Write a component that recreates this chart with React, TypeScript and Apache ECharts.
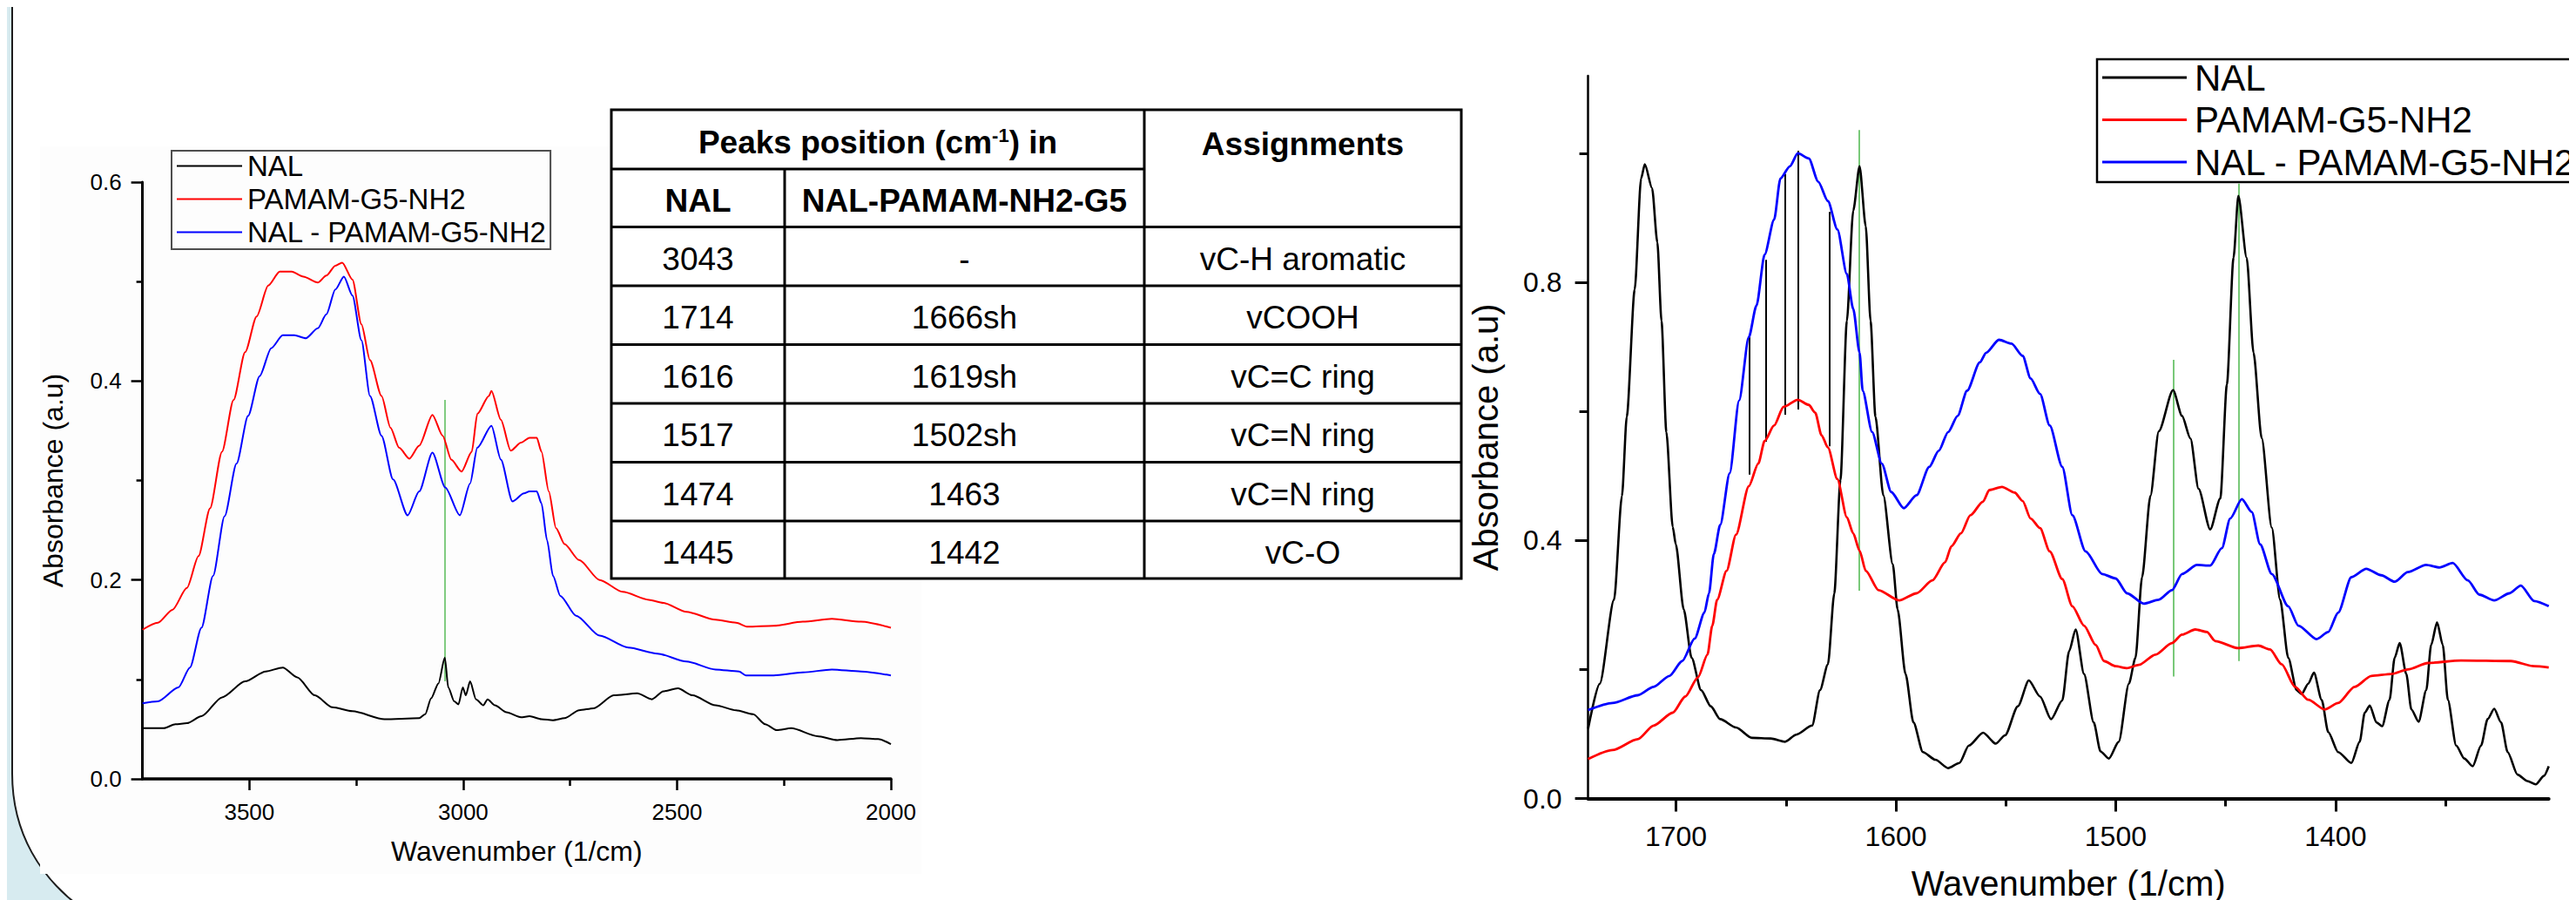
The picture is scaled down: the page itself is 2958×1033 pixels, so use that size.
import React, { useEffect, useRef } from "react";
import * as echarts from "echarts";

const FONT = "'Liberation Sans', Arial, Helvetica, sans-serif";
const NAMES = ["NAL", "PAMAM-G5-NH2", "NAL - PAMAM-G5-NH2"];
const COLORS = ["#000000", "#ff0000", "#0000ff"];

// ---------- left panel (3750-2000 cm-1) : [wavenumber, absorbance] ----------
const leftNAL = [
  [3750, 0.051], [3700, 0.051], [3673, 0.055], [3646, 0.056], [3612, 0.063], [3564, 0.082], [3510, 0.098],
  [3462, 0.108], [3422, 0.112], [3388, 0.102], [3347, 0.084], [3306, 0.072], [3259, 0.068], [3184, 0.06],
  [3103, 0.061], [3089, 0.065], [3075, 0.081], [3058, 0.096], [3043, 0.122], [3035, 0.092], [3021, 0.078],
  [3011, 0.075], [3001, 0.092], [2994, 0.084], [2984, 0.098], [2970, 0.08], [2953, 0.074], [2943, 0.08],
  [2926, 0.074], [2899, 0.067], [2865, 0.062], [2845, 0.063], [2817, 0.06], [2790, 0.059], [2763, 0.061],
  [2729, 0.069], [2695, 0.071], [2648, 0.084], [2593, 0.086], [2559, 0.08], [2532, 0.088], [2498, 0.091],
  [2464, 0.084], [2410, 0.074], [2362, 0.069], [2322, 0.065], [2294, 0.055], [2267, 0.049], [2233, 0.051],
  [2172, 0.043], [2125, 0.039], [2070, 0.041], [2030, 0.04], [2000, 0.035],
];
const leftPAMAM = [
  [3750, 0.15], [3714, 0.157], [3680, 0.17], [3646, 0.192], [3619, 0.224], [3592, 0.272], [3564, 0.329],
  [3537, 0.381], [3510, 0.429], [3483, 0.465], [3456, 0.496], [3429, 0.51], [3401, 0.51], [3374, 0.505],
  [3340, 0.499], [3320, 0.506], [3299, 0.516], [3283, 0.519], [3259, 0.502], [3238, 0.457], [3218, 0.421],
  [3191, 0.385], [3170, 0.353], [3150, 0.333], [3126, 0.322], [3103, 0.335], [3072, 0.366], [3048, 0.345],
  [3028, 0.321], [3004, 0.309], [2980, 0.329], [2967, 0.367], [2940, 0.385], [2934, 0.39], [2912, 0.361],
  [2889, 0.33], [2865, 0.338], [2845, 0.343], [2828, 0.343], [2817, 0.329], [2800, 0.289], [2783, 0.252],
  [2763, 0.236], [2729, 0.22], [2681, 0.2], [2627, 0.188], [2566, 0.18], [2532, 0.177], [2478, 0.168],
  [2410, 0.16], [2362, 0.157], [2335, 0.153], [2274, 0.154], [2206, 0.158], [2138, 0.161], [2070, 0.158],
  [2000, 0.152],
];
const leftComplex = [
  [3750, 0.076], [3714, 0.078], [3666, 0.092], [3639, 0.112], [3612, 0.152], [3585, 0.204], [3558, 0.264],
  [3530, 0.317], [3503, 0.365], [3476, 0.405], [3449, 0.433], [3422, 0.446], [3395, 0.446], [3368, 0.443],
  [3340, 0.453], [3320, 0.467], [3299, 0.492], [3279, 0.505], [3259, 0.486], [3238, 0.441], [3218, 0.385],
  [3191, 0.345], [3164, 0.301], [3130, 0.265], [3103, 0.289], [3072, 0.328], [3042, 0.293], [3008, 0.265],
  [2984, 0.297], [2967, 0.333], [2934, 0.355], [2912, 0.321], [2885, 0.279], [2858, 0.287], [2845, 0.289],
  [2828, 0.289], [2817, 0.277], [2804, 0.24], [2790, 0.204], [2773, 0.184], [2736, 0.164], [2681, 0.144],
  [2614, 0.132], [2546, 0.126], [2478, 0.118], [2410, 0.11], [2355, 0.108], [2339, 0.104], [2274, 0.104],
  [2206, 0.107], [2138, 0.11], [2070, 0.108], [2000, 0.104],
];
const leftGreen = [[3043, 0.098, 0.381]]; // [wavenumber, from, to]
const leftXTicks = [2000, 2500, 3000, 3500];
const leftXMinor = [2250, 2750, 3250];
const leftYTicks = [0, 0.2, 0.4, 0.6];
const leftYMinor = [0.1, 0.3, 0.5];

// ---------- right panel (1740-1303 cm-1) ----------
const rightNAL = [
  [1740, 0.108], [1734.7, 0.178], [1728.2, 0.308], [1724.6, 0.469], [1722.4, 0.592], [1718.8, 0.789],
  [1715.9, 0.961], [1714.2, 0.983], [1710.9, 0.946], [1708.5, 0.862], [1706.6, 0.74], [1704.4, 0.568],
  [1701.5, 0.421], [1700.1, 0.394], [1696.5, 0.293], [1692.9, 0.218], [1688.6, 0.168], [1684.2, 0.143],
  [1679.9, 0.123], [1672.7, 0.11], [1665.5, 0.094], [1656.9, 0.093], [1650.4, 0.088], [1645.3, 0.099],
  [1638.1, 0.113], [1634.5, 0.168], [1630.9, 0.208], [1628, 0.318], [1625.2, 0.494], [1622.3, 0.74],
  [1619.4, 0.911], [1616.5, 0.98], [1613.7, 0.887], [1611.5, 0.74], [1609.3, 0.592], [1605.7, 0.47],
  [1601.4, 0.363], [1599.2, 0.293], [1595.6, 0.193], [1592, 0.118], [1587.7, 0.072], [1582, 0.06],
  [1576.2, 0.047], [1571.1, 0.055], [1566.8, 0.082], [1560.3, 0.102], [1554.6, 0.085], [1550.3, 0.098],
  [1544.5, 0.143], [1539.5, 0.183], [1534.4, 0.158], [1529.4, 0.123], [1524.3, 0.152], [1521.2, 0.228],
  [1518.2, 0.262], [1514.4, 0.193], [1510, 0.118], [1506.9, 0.073], [1503.1, 0.062], [1498.6, 0.088],
  [1494, 0.178], [1491, 0.218], [1488, 0.343], [1484.2, 0.469], [1480.4, 0.569], [1473.9, 0.633],
  [1469.8, 0.593], [1466, 0.558], [1462.3, 0.48], [1457, 0.417], [1452.4, 0.465], [1449.4, 0.642],
  [1446.4, 0.838], [1444.2, 0.934], [1440.4, 0.838], [1437.3, 0.691], [1433.6, 0.559], [1429, 0.42],
  [1425.2, 0.308], [1421.5, 0.218], [1417.7, 0.168], [1415.4, 0.162], [1412.4, 0.178], [1409.8, 0.195],
  [1406.3, 0.153], [1403.3, 0.103], [1398.8, 0.072], [1392.8, 0.055], [1389, 0.088], [1386.7, 0.133],
  [1384.4, 0.144], [1381.4, 0.118], [1378.8, 0.112], [1375.4, 0.153], [1373.1, 0.218], [1370.8, 0.241],
  [1367.8, 0.193], [1365.5, 0.138], [1362.2, 0.119], [1358.7, 0.168], [1356.5, 0.238], [1353.8, 0.273],
  [1351.2, 0.238], [1348.9, 0.153], [1345.1, 0.082], [1341.4, 0.062], [1337.6, 0.05], [1333.8, 0.082],
  [1330.8, 0.123], [1327.8, 0.139], [1324.7, 0.118], [1321.7, 0.072], [1317.2, 0.037], [1312.7, 0.027],
  [1308.9, 0.022], [1305.2, 0.035], [1303, 0.05],
];
const rightPAMAM = [
  [1740, 0.061], [1728.9, 0.075], [1717.4, 0.092], [1710.2, 0.113], [1701.5, 0.133], [1695.8, 0.158],
  [1690, 0.188], [1685.7, 0.223], [1683.5, 0.268], [1681.3, 0.308], [1677, 0.353], [1672.7, 0.409],
  [1666.9, 0.484], [1662.6, 0.519], [1659.7, 0.554], [1655.4, 0.578], [1651.1, 0.607], [1644.6, 0.618],
  [1639.6, 0.61], [1636.7, 0.598], [1633.8, 0.563], [1630.9, 0.544], [1626.6, 0.495], [1622.3, 0.436],
  [1619.4, 0.411], [1616.5, 0.384], [1613.7, 0.353], [1607.9, 0.323], [1598.5, 0.307], [1590.6, 0.318],
  [1583.4, 0.338], [1577.6, 0.366], [1574.7, 0.391], [1570.4, 0.411], [1566.1, 0.439], [1560.4, 0.46],
  [1557.5, 0.478], [1551.7, 0.483], [1545.9, 0.474], [1542.3, 0.461], [1538.7, 0.434], [1534.4, 0.419],
  [1530, 0.383], [1524.3, 0.34], [1519.7, 0.298], [1514.4, 0.268], [1509.1, 0.238], [1505.3, 0.213],
  [1500, 0.205], [1494.8, 0.202], [1489.5, 0.207], [1481.9, 0.223], [1474.4, 0.241], [1469.8, 0.254],
  [1463.8, 0.262], [1458.5, 0.258], [1454.7, 0.244], [1444.2, 0.233], [1435.1, 0.237], [1429.8, 0.231],
  [1424.5, 0.208], [1418.4, 0.173], [1412.4, 0.153], [1404.9, 0.138], [1398.8, 0.148], [1391.3, 0.173],
  [1383.7, 0.19], [1374.6, 0.193], [1367.1, 0.2], [1358, 0.21], [1342.9, 0.214], [1320.2, 0.213],
  [1309.6, 0.205], [1303, 0.203],
];
const rightComplex = [
  [1740, 0.137], [1728.9, 0.148], [1717.4, 0.16], [1710.2, 0.173], [1703, 0.19], [1697.2, 0.213],
  [1691.5, 0.248], [1687.1, 0.288], [1685, 0.318], [1682.8, 0.379], [1679.9, 0.424], [1675.6, 0.504],
  [1671.3, 0.617], [1666.9, 0.715], [1663.4, 0.764], [1659.7, 0.843], [1655.4, 0.897], [1652.5, 0.961],
  [1648.2, 0.98], [1644.6, 1.0], [1639.6, 0.992], [1635.3, 0.956], [1630.9, 0.926], [1626.6, 0.882],
  [1622.3, 0.813], [1619.4, 0.759], [1616.5, 0.691], [1615.1, 0.632], [1610.8, 0.568], [1606.4, 0.519],
  [1602.1, 0.475], [1596.4, 0.45], [1590.6, 0.47], [1584.8, 0.514], [1580.5, 0.539], [1576.2, 0.568],
  [1571.9, 0.593], [1567.6, 0.632], [1561.8, 0.676], [1558.9, 0.691], [1553.1, 0.711], [1547.4, 0.705],
  [1542.3, 0.686], [1538.7, 0.651], [1534.4, 0.627], [1530, 0.578], [1524.3, 0.514], [1519.7, 0.439],
  [1513.7, 0.383], [1506.1, 0.348], [1500, 0.341], [1494.8, 0.318], [1487.2, 0.302], [1480.4, 0.308],
  [1474.4, 0.323], [1469.8, 0.348], [1463, 0.362], [1457, 0.361], [1451.7, 0.388], [1447.9, 0.434],
  [1442.6, 0.464], [1438.1, 0.444], [1434.3, 0.394], [1429, 0.348], [1421.5, 0.298], [1416.9, 0.268],
  [1408.6, 0.247], [1403.3, 0.258], [1398.8, 0.288], [1392.8, 0.343], [1386, 0.356], [1379.2, 0.346],
  [1373.1, 0.336], [1367.1, 0.351], [1358.8, 0.362], [1352.7, 0.358], [1346.7, 0.365], [1339.8, 0.338],
  [1334.6, 0.316], [1327.8, 0.307], [1320.9, 0.318], [1315.7, 0.33], [1309.6, 0.306], [1303, 0.298],
];
const rightGreen = [[1616.8, 0.322, 1.036], [1473.9, 0.189, 0.68], [1444.2, 0.213, 0.953]];
const rightDrop = [[1666.6, 0.502, 0.716], [1659.3, 0.553, 0.835], [1650.5, 0.595, 0.968], [1644.3, 0.603, 1.004], [1630.3, 0.546, 0.909]];
const rightXTicks = [1400, 1500, 1600, 1700];
const rightXMinor = [1350, 1450, 1550, 1650];
const rightYTicks = [0, 0.4, 0.8];
const rightYMinor = [0.2, 0.6, 1.0];

// ---------- table ----------
const tableColHeads = ["NAL", "NAL-PAMAM-NH2-G5", "Assignments"];
const tableNAL = ["3043", "1714", "1616", "1517", "1474", "1445"];
const tableComplex = ["-", "1666sh", "1619sh", "1502sh", "1463", "1442"];
const tableAssign = ["vC-H aromatic", "vCOOH", "vC=C ring", "vC=N ring", "vC=N ring", "vC-O"];

// layout constants
const TX = [694, 893, 1306, 1670];
const TY = [118, 186, 252.5, 320, 387.5, 455, 522.5, 590, 656];

echarts.graphic.registerShape(
  "slideFill",
  echarts.graphic.extendPath("M 6 0 L 2958 0 L 2958 1033 L 84 1033 C 40 1000 6 950 6 880 Z", {})
);
echarts.graphic.registerShape(
  "slideEdge",
  echarts.graphic.extendPath("M 6 0 L 6 880 C 6 950 40 1000 84 1033", {})
);

function vlines(arr: number[][]) {
  return arr.map(([x, a, b]) => ({ coords: [[x, a], [x, b]] }));
}

function buildOption(): any {
  const tickStyle = (w: number) => ({ lineStyle: { color: "#000", width: w } });
  const baseAxis = { splitLine: { show: false }, axisPointer: { show: false }, nameMoveOverlap: false };
  const plain = (v: number) => String(v);

  const xAxis = [
    {
      ...baseAxis, type: "value", gridIndex: 0, min: 2000, max: 3750, inverse: true, position: "bottom",
      axisLine: { show: true, onZero: false, lineStyle: { color: "#000", width: 3.5 } },
      axisTick: { show: true, inside: false, length: 13, customValues: leftXTicks, ...tickStyle(2.5) },
      axisLabel: { show: true, customValues: leftXTicks, margin: 25, fontSize: 26, fontFamily: FONT, color: "#000", formatter: plain },
      name: "Wavenumber (1/cm)", nameLocation: "middle", nameGap: 67,
      nameTextStyle: { fontSize: 32, fontFamily: FONT, color: "#000" },
    },
    {
      ...baseAxis, type: "value", gridIndex: 0, min: 2000, max: 3750, inverse: true, position: "bottom", offset: 0,
      axisLine: { show: false }, axisLabel: { show: false },
      axisTick: { show: true, length: 8, customValues: leftXMinor, ...tickStyle(2.5) },
    },
    {
      ...baseAxis, type: "value", gridIndex: 1, min: 1303, max: 1740, inverse: true, position: "bottom",
      axisLine: { show: true, onZero: false, lineStyle: { color: "#000", width: 4 } },
      axisTick: { show: true, inside: false, length: 15, customValues: rightXTicks, ...tickStyle(3) },
      axisLabel: { show: true, customValues: rightXTicks, margin: 27, fontSize: 32, fontFamily: FONT, color: "#000", formatter: plain },
      name: "Wavenumber (1/cm)", nameLocation: "middle", nameGap: 77,
      nameTextStyle: { fontSize: 40, fontFamily: FONT, color: "#000" },
    },
    {
      ...baseAxis, type: "value", gridIndex: 1, min: 1303, max: 1740, inverse: true, position: "bottom", offset: 0,
      axisLine: { show: false }, axisLabel: { show: false },
      axisTick: { show: true, length: 9, customValues: rightXMinor, ...tickStyle(3) },
    },
  ];

  const yAxis = [
    {
      ...baseAxis, type: "value", gridIndex: 0, min: 0, max: 0.6, position: "left",
      axisLine: { show: true, onZero: false, lineStyle: { color: "#000", width: 3 } },
      axisTick: { show: true, length: 13, customValues: leftYTicks, ...tickStyle(2.5) },
      axisLabel: {
        show: true, customValues: leftYTicks, margin: 24, fontSize: 26, fontFamily: FONT, color: "#000",
        formatter: (v: number) => v.toFixed(1),
      },
      name: "Absorbance (a.u)", nameLocation: "middle", nameGap: 87, nameRotate: 90,
      nameTextStyle: { fontSize: 32, fontFamily: FONT, color: "#000" },
    },
    {
      ...baseAxis, type: "value", gridIndex: 0, min: 0, max: 0.6, position: "left", offset: 0,
      axisLine: { show: false }, axisLabel: { show: false },
      axisTick: { show: true, length: 7, customValues: leftYMinor, ...tickStyle(2.5) },
    },
    {
      ...baseAxis, type: "value", gridIndex: 1, min: 0, max: 1.12, position: "left",
      axisLine: { show: true, onZero: false, lineStyle: { color: "#000", width: 2.5 } },
      axisTick: { show: true, length: 15, customValues: rightYTicks, ...tickStyle(3) },
      axisLabel: {
        show: true, customValues: rightYTicks, margin: 30, fontSize: 32, fontFamily: FONT, color: "#000",
        formatter: (v: number) => v.toFixed(1),
      },
      name: "Absorbance (a.u)", nameLocation: "middle", nameGap: 98, nameRotate: 90,
      nameTextStyle: { fontSize: 40, fontFamily: FONT, color: "#000" },
    },
    {
      ...baseAxis, type: "value", gridIndex: 1, min: 0, max: 1.12, position: "left", offset: 0,
      axisLine: { show: false }, axisLabel: { show: false },
      axisTick: { show: true, length: 10, customValues: rightYMinor, ...tickStyle(3) },
    },
  ];

  const curve = (name: string, color: string, data: number[][], xi: number, yi: number, w: number) => ({
    type: "line", name, data, xAxisIndex: xi, yAxisIndex: yi, showSymbol: false, symbol: "none",
    smooth: 0.25, smoothMonotone: "x", silent: true, z: 3,
    lineStyle: { color, width: w }, itemStyle: { color },
  });
  const segs = (data: number[][], xi: number, yi: number, color: string, w: number) => ({
    type: "lines", coordinateSystem: "cartesian2d", xAxisIndex: xi, yAxisIndex: yi, silent: true, z: 2,
    data: vlines(data), lineStyle: { color, width: w, opacity: 1 }, effect: { show: false },
  });

  const series = [
    segs(leftGreen, 0, 0, "#57bb57", 1.5),
    curve(NAMES[0], COLORS[0], leftNAL, 0, 0, 2),
    curve(NAMES[1], COLORS[1], leftPAMAM, 0, 0, 2),
    curve(NAMES[2], COLORS[2], leftComplex, 0, 0, 2),
    segs(rightGreen, 2, 2, "#57bb57", 1.6),
    segs(rightDrop, 2, 2, "#000000", 2),
    curve(NAMES[0], COLORS[0], rightNAL, 2, 2, 2.6),
    curve(NAMES[1], COLORS[1], rightPAMAM, 2, 2, 2.8),
    curve(NAMES[2], COLORS[2], rightComplex, 2, 2, 2.8),
  ];

  const legendBase = {
    show: true, orient: "vertical", data: NAMES, icon: "rect", selectedMode: false,
    backgroundColor: "transparent", align: "left",
  };
  const legend = [
    {
      ...legendBase, left: 189, top: 165, padding: [1, 4, 3, 6], itemGap: 5, itemWidth: 75, itemHeight: 2,
      borderColor: "#4d4d4d", borderWidth: 2,
      textStyle: { fontSize: 33, fontFamily: FONT, color: "#000", padding: [0, 0, 0, 1] },
    },
    {
      ...legendBase, left: 2400, top: 60, padding: [0, 10, 2, 6], itemGap: 6.5, itemWidth: 97, itemHeight: 3,
      borderColor: "#000", borderWidth: 2.5,
      textStyle: { fontSize: 42, fontFamily: FONT, color: "#000", padding: [0, 0, 0, 4] },
    },
  ];

  // ---------- graphics: slide background + table ----------
  const g: any[] = [];
  g.push({ type: "rect", z: -20, silent: true, shape: { x: 0, y: 0, width: 2958, height: 1033 }, style: { fill: "#d7ebf0" } });
  g.push({ type: "slideFill", z: -19, silent: true, x: 0, y: 0, style: { fill: "#ffffff", stroke: "none" } });
  g.push({ type: "slideEdge", z: -18, silent: true, x: 0, y: 0, style: { fill: "none", stroke: "#1d1d1d", lineWidth: 2 } });
  // pasted picture background of the left panel (covers the slide edge)
  g.push({ type: "rect", z: -17, silent: true, shape: { x: 38, y: 160, width: 1012, height: 835 }, style: { fill: "#fdfdfd" } });

  const tz = 20;
  g.push({ type: "rect", z: tz, silent: true, shape: { x: TX[0], y: TY[0], width: TX[3] - TX[0], height: TY[8] - TY[0] }, style: { fill: "#ffffff", stroke: "#000", lineWidth: 3 } });
  g.push({ type: "line", z: tz, silent: true, shape: { x1: TX[0], y1: TY[1], x2: TX[2], y2: TY[1] }, style: { stroke: "#000", lineWidth: 3 } });
  for (let i = 2; i < 8; i++) {
    g.push({ type: "line", z: tz, silent: true, shape: { x1: TX[0], y1: TY[i], x2: TX[3], y2: TY[i] }, style: { stroke: "#000", lineWidth: 3 } });
  }
  g.push({ type: "line", z: tz, silent: true, shape: { x1: TX[1], y1: TY[1], x2: TX[1], y2: TY[8] }, style: { stroke: "#000", lineWidth: 3 } });
  g.push({ type: "line", z: tz, silent: true, shape: { x1: TX[2], y1: TY[0], x2: TX[2], y2: TY[8] }, style: { stroke: "#000", lineWidth: 3 } });

  const txt = (text: string, x: number, y: number, bold: boolean) => ({
    type: "text", z: tz + 1, silent: true, x, y,
    style: {
      text, fill: "#000", fontSize: 37, fontFamily: FONT, fontWeight: bold ? "bold" : "normal",
      align: "center", verticalAlign: "middle",
    },
  });
  g.push({
    type: "text", z: tz + 1, silent: true, x: (TX[0] + TX[2]) / 2, y: 155,
    style: {
      text: "{b|Peaks position (cm}{s|-1}{b|) in}", align: "center", verticalAlign: "middle",
      fontSize: 37, fontFamily: FONT, fontWeight: "bold", fill: "#000",
      rich: {
        b: { fontSize: 37, fontFamily: FONT, fontWeight: "bold", fill: "#000" },
        s: { fontSize: 22, fontFamily: FONT, fontWeight: "bold", fill: "#000", verticalAlign: "top" },
      },
    },
  });
  g.push(txt(tableColHeads[0], (TX[0] + TX[1]) / 2, 222, true));
  g.push(txt(tableColHeads[1], (TX[1] + TX[2]) / 2, 222, true));
  g.push(txt(tableColHeads[2], (TX[2] + TX[3]) / 2, 157, true));
  for (let r = 0; r < tableNAL.length; r++) {
    const cy = (TY[r + 2] + TY[r + 3]) / 2 + 3;
    g.push(txt(tableNAL[r], (TX[0] + TX[1]) / 2, cy, false));
    g.push(txt(tableComplex[r], (TX[1] + TX[2]) / 2, cy, false));
    g.push(txt(tableAssign[r], (TX[2] + TX[3]) / 2, cy, false));
  }

  return {
    animation: false,
    backgroundColor: "transparent",
    textStyle: { fontFamily: FONT },
    grid: [
      { left: 155.6, top: 201, width: 859.4, height: 685, containLabel: false, outerBoundsMode: "none", show: false },
      { left: 1815.6, top: 79.1, width: 1103.1, height: 829.4, containLabel: false, outerBoundsMode: "none", show: false },
    ],
    xAxis, yAxis, legend, series,
    tooltip: { show: false },
    graphic: { elements: g },
  };
}

export default function App() {
  const ref = useRef<HTMLDivElement>(null);
  useEffect(() => {
    if (!ref.current) return;
    const chart = echarts.init(ref.current, null, { renderer: "svg", width: 2958, height: 1033 });
    chart.setOption(buildOption());
    return () => chart.dispose();
  }, []);
  return <div ref={ref} style={{ position: "fixed", left: 0, top: 0, width: 2958, height: 1033 }} />;
}
